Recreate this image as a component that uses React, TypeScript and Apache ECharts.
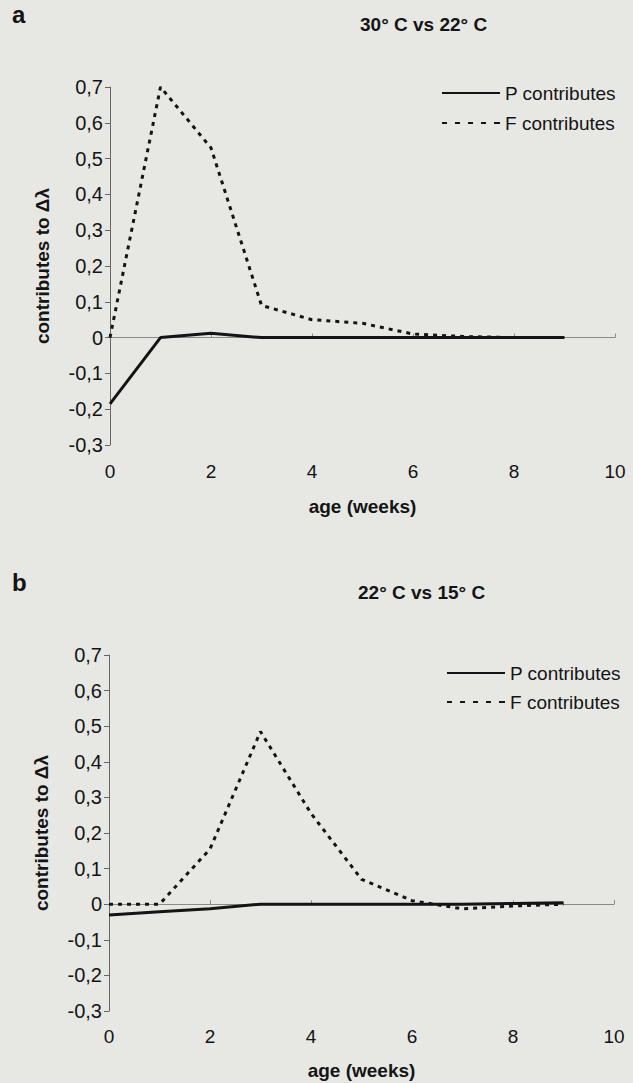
import React, { useEffect, useRef } from "react";
import * as echarts from "echarts";

const weeks = [0, 1, 2, 3, 4, 5, 6, 7, 8, 9];

// Panel a: 30° C vs 22° C
const aP = [-0.185, 0, 0.012, 0, 0, 0, 0, 0, 0, 0];
const aF = [0, 0.7, 0.53, 0.09, 0.05, 0.04, 0.01, 0.003, 0, null];

// Panel b: 22° C vs 15° C
const bP = [-0.03, -0.021, -0.013, 0, 0, 0, 0, 0, 0.002, 0.004];
const bF = [0, 0, 0.155, 0.485, 0.255, 0.07, 0.01, -0.013, -0.005, 0];

const xTicks = [0, 2, 4, 6, 8, 10];
const yTicks = [-0.3, -0.2, -0.1, 0, 0.1, 0.2, 0.3, 0.4, 0.5, 0.6, 0.7];

const seriesNames = ["P contributes", "F contributes"];
const panelTitles = ["30° C vs 22° C", "22° C vs 15° C"];
const panelLetters = ["a", "b"];
const xName = "age (weeks)";
const yName = "contributes to Δλ";

const FONT = "'Liberation Sans', Arial, Helvetica, sans-serif";
const INK = "#141414";

const ICON_SOLID = "path://M0,0H58V2H0Z";
const ICON_DASH =
  "path://M0,0h5v2h-5z M13,0h5v2h-5z M26,0h5v2h-5z M39,0h5v2h-5z M52,0h6v2h-6z";

function pairs(vals: (number | null)[]) {
  return weeks.map((w, i) => [w, vals[i]]);
}

export default function App() {
  const ref = useRef<HTMLDivElement>(null);
  useEffect(() => {
    if (!ref.current) return;
    const chart = echarts.init(ref.current, null, { renderer: "svg" });
    const grids = [
      { left: 110, top: 87, width: 505, height: 358 },
      { left: 109, top: 655, width: 505, height: 356 },
    ];
    const fmt = (v: number) => {
      const r = Math.round(v * 10) / 10;
      if (r === 0) return "0";
      return r.toFixed(1).replace(".", ",");
    };
    const xAxes: any[] = [];
    const yAxes: any[] = [];
    grids.forEach((g, gi) => {
      xAxes.push({
        gridIndex: gi,
        type: "value",
        min: xTicks[0],
        max: xTicks[xTicks.length - 1],
        interval: xTicks[1] - xTicks[0],
        position: "bottom",
        axisLine: { show: false, onZero: false },
        axisTick: { show: false },
        splitLine: { show: false },
        axisLabel: { fontSize: 19, color: INK, fontFamily: FONT, margin: gi === 0 ? 17 : 16 },
        name: xName,
        nameLocation: "middle",
        nameGap: gi === 0 ? 52 : 50,
        nameTextStyle: { fontSize: 19, fontWeight: "bold", color: INK, fontFamily: FONT },
      });
      xAxes.push({
        gridIndex: gi,
        type: "value",
        min: xTicks[0],
        max: xTicks[xTicks.length - 1],
        interval: xTicks[1] - xTicks[0],
        position: "top",
        axisLine: { show: true, onZero: true, onZeroAxisIndex: gi, lineStyle: { color: "#8a8a8a", width: 1 } },
        axisTick: { show: true, length: 4, lineStyle: { color: "#8a8a8a" } },
        axisLabel: { show: false },
        splitLine: { show: false },
      });
      yAxes.push({
        gridIndex: gi,
        type: "value",
        min: yTicks[0],
        max: yTicks[yTicks.length - 1],
        interval: 0.1,
        axisLine: { show: true, onZero: false, lineStyle: { color: "#666", width: 1 } },
        axisTick: { show: true, length: 5, lineStyle: { color: "#666" } },
        splitLine: { show: false },
        axisLabel: { fontSize: 20, color: INK, fontFamily: FONT, margin: 7, formatter: fmt },
        name: yName,
        nameLocation: "middle",
        nameRotate: 90,
        nameGap: 58,
        nameTextStyle: { fontSize: 19, fontWeight: "bold", color: INK, fontFamily: FONT },
      });
    });

    const data = [
      [aP, aF],
      [bP, bF],
    ];
    const series: any[] = [];
    data.forEach((pair, gi) => {
      series.push({
        name: seriesNames[0],
        type: "line",
        xAxisIndex: gi * 2,
        yAxisIndex: gi,
        symbol: "none",
        lineStyle: { color: INK, width: 3 },
        itemStyle: { color: INK },
        data: pairs(pair[0]),
        z: 3,
      });
      series.push({
        name: seriesNames[1],
        type: "line",
        xAxisIndex: gi * 2,
        yAxisIndex: gi,
        symbol: "none",
        lineStyle: { color: INK, width: 3, type: [4, 5] },
        itemStyle: { color: INK },
        data: pairs(pair[1]),
        z: 4,
      });
    });

    const legendBase = {
      orient: "vertical",
      padding: 0,
      itemWidth: 58,
      itemHeight: 2,
      selectedMode: false,
      textStyle: { fontSize: 19, lineHeight: 20, color: INK, fontFamily: FONT },
      data: [
        { name: seriesNames[0], icon: ICON_SOLID },
        { name: seriesNames[1], icon: ICON_DASH },
      ],
    };

    chart.setOption({
      animation: false,
      backgroundColor: "#e7e7e4",
      title: [
        { text: panelLetters[0], left: 12, top: 2, padding: 0, textStyle: { fontSize: 24, fontWeight: "bold", color: INK, fontFamily: FONT } },
        { text: panelTitles[0], left: 360, top: 15, padding: 0, textStyle: { fontSize: 19, fontWeight: "bold", color: INK, fontFamily: FONT } },
        { text: panelLetters[1], left: 12, top: 570, padding: 0, textStyle: { fontSize: 24, fontWeight: "bold", color: INK, fontFamily: FONT } },
        { text: panelTitles[1], left: 358, top: 583, padding: 0, textStyle: { fontSize: 19, fontWeight: "bold", color: INK, fontFamily: FONT } },
      ],
      legend: [
        { ...legendBase, left: 442, top: 83, itemGap: 10 },
        { ...legendBase, left: 447, top: 663, itemGap: 9 },
      ],
      grid: grids,
      xAxis: xAxes,
      yAxis: yAxes,
      series,
    });
    return () => chart.dispose();
  }, []);
  return (
    <div
      ref={ref}
      style={{ position: "absolute", left: 0, top: 0, width: 633, height: 1083, background: "#e7e7e4" }}
    />
  );
}
